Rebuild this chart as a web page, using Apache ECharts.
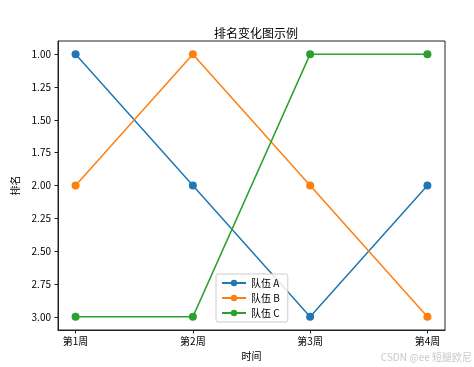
<!DOCTYPE html>
<html><head><meta charset="utf-8">
<script src="https://cdn.jsdelivr.net/npm/echarts@6/dist/echarts.min.js"></script>
<style>html,body{margin:0;padding:0;background:#fff}#c{width:474px;height:367px}</style>
</head><body><div id="c"></div>
<script>
const categories = ['第1周', '第2周', '第3周', '第4周'];
const teamA = [1, 2, 3, 2];
const teamB = [2, 1, 2, 3];
const teamC = [3, 3, 1, 1];
const yTicks = [1, 1.25, 1.5, 1.75, 2, 2.25, 2.5, 2.75, 3];
const seriesNames = ['队伍 A', '队伍 B', '队伍 C'];
const colors = ['#1f77b4', '#ff7f0e', '#2ca02c'];
const FONT = '"Noto Sans CJK SC", "DejaVu Sans", sans-serif';

const chart = echarts.init(document.getElementById('c'));
const mk = (name, vals, color) => ({
  name, type: 'line', data: vals.map((v, i) => [i, v]),
  symbol: 'circle', symbolSize: 8,
  lineStyle: { color, width: 1.5 }, itemStyle: { color },
  emphasis: { disabled: true }, animation: false
});
chart.setOption({
  animation: false,
  title: { text: '排名变化图示例', left: 251, top: 22, textAlign: 'center',
    textStyle: { fontFamily: FONT, fontSize: 12, fontWeight: 'normal', color: '#000' } },
  grid: { left: 58, right: 29, top: 41, bottom: 37, show: true, borderColor: '#222', borderWidth: 1 },
  xAxis: {
    type: 'value', min: -0.15, max: 3.15,
    name: '时间', nameLocation: 'middle', nameGap: 21,
    nameTextStyle: { fontFamily: FONT, fontSize: 10, color: '#000' },
    axisLine: { show: true, onZero: false, lineStyle: { color: '#222' } },
    axisTick: { show: true, customValues: [0, 1, 2, 3], length: 3.5, lineStyle: { color: '#222' } },
    axisLabel: { customValues: [0, 1, 2, 3], formatter: v => categories[Math.round(v)] || '',
      fontFamily: FONT, fontSize: 10, color: '#000', margin: 6 },
    splitLine: { show: false }
  },
  yAxis: {
    type: 'value', min: 0.9, max: 3.1, inverse: true,
    name: '排名', nameLocation: 'middle', nameGap: 36,
    nameTextStyle: { fontFamily: FONT, fontSize: 10, color: '#000' },
    axisLine: { show: true, onZero: false, lineStyle: { color: '#222' } },
    axisTick: { show: true, customValues: yTicks, length: 3.5, lineStyle: { color: '#222' } },
    axisLabel: { customValues: yTicks, formatter: v => v.toFixed(2),
      fontFamily: FONT, fontSize: 10, color: '#000', margin: 7 },
    splitLine: { show: false }
  },
  legend: {
    data: seriesNames, orient: 'vertical', left: 216, top: 274, z: 10,
    itemWidth: 24, itemHeight: 8, itemGap: 5, padding: [4, 8, 4, 5],
    borderColor: '#ccc', borderWidth: 1, borderRadius: 2, backgroundColor: 'rgba(255,255,255,0.85)',
    textStyle: { fontFamily: FONT, fontSize: 10, color: '#000' }
  },
  graphic: [{ type: 'text', right: 2, bottom: 5,
    style: { text: 'CSDN @ee 短腿欧尼', fill: '#c8c8c8', font: '10px ' + FONT } }],
  series: [mk(seriesNames[0], teamA, colors[0]), mk(seriesNames[1], teamB, colors[1]), mk(seriesNames[2], teamC, colors[2])]
});
</script></body></html>
